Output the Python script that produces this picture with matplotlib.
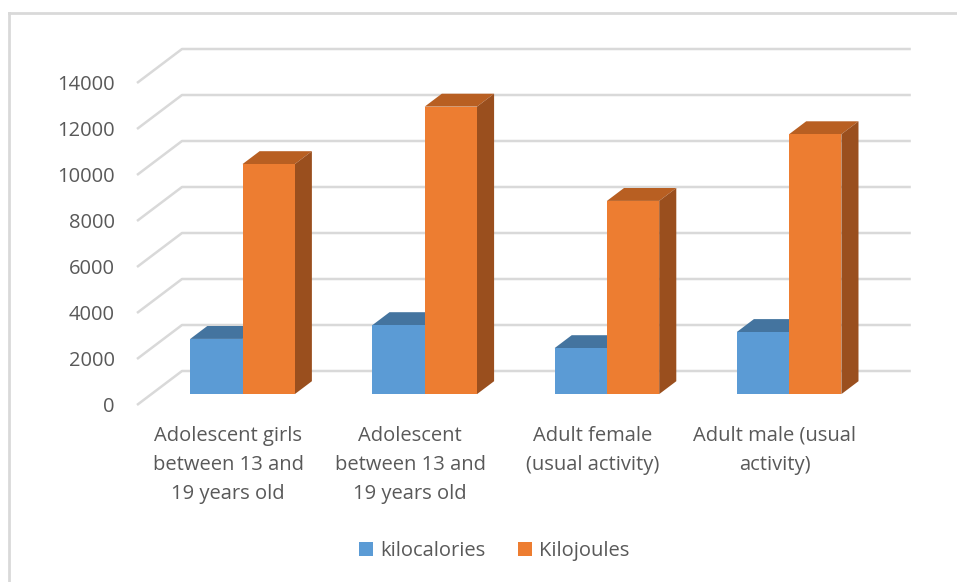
import matplotlib
matplotlib.use("Agg")
import matplotlib.pyplot as plt
from matplotlib.patches import Polygon, Patch
from matplotlib.lines import Line2D

# ---- data ----
categories = [
    "Adolescent girls\nbetween 13 and\n19 years old",
    "Adolescent\nbetween 13 and\n19 years old",
    "Adult female\n(usual activity)",
    "Adult male (usual\nactivity)",
]
series_names = ["kilocalories", "Kilojoules"]
kilocalories = [2400, 3000, 2000, 2700]
kilojoules = [10000, 12500, 8400, 11300]
y_ticks = [0, 2000, 4000, 6000, 8000, 10000, 12000, 14000]

# ---- style ----
front_colors = ["#5b9bd5", "#ed7d31"]
top_colors = ["#44749f", "#b85f22"]
side_colors = ["#3a6690", "#9a4f1e"]
grid_color = "#d9d9d9"
text_color = "#595959"

W, H = 957, 582
fig = plt.figure(figsize=(W / 100, H / 100), dpi=100)
plt.rcParams["font.family"] = ["Open Sans", "DejaVu Sans"]

# geometry of the pseudo-3D box (in data units)
DX = 45 / 182.2        # depth offset along x (categories)
DY = 1478              # depth offset along y (value units)
ymax = y_ticks[-1]
n = len(categories)

left_px, right_px = 137, 910.8
bottom_px, top_px = 405, 49
ax = fig.add_axes([left_px / W, (H - bottom_px) / H,
                   (right_px - left_px) / W, (bottom_px - top_px) / H])
ax.set_xlim(-0.5, n - 0.5 + DX)
ax.set_ylim(0, ymax + DY)
for s in ax.spines.values():
    s.set_visible(False)
ax.patch.set_alpha(0)

# gridlines: diagonal on left side wall, then along back wall
for v in y_ticks:
    ax.plot([-0.5, -0.5 + DX, n - 0.5 + DX], [v, v + DY, v + DY],
            color=grid_color, lw=1.8, clip_on=False, zorder=1,
            solid_capstyle="butt")

# bars
bar_w = 0.287
d0, d1 = 0.32, 0.70
values = [kilocalories, kilojoules]
for i in range(n):
    for s, vals in enumerate(values):
        v = vals[i]
        x0 = i - bar_w + s * bar_w + d0 * DX
        x1 = x0 + bar_w
        y0 = d0 * DY
        y1 = v + d0 * DY
        ddx = (d1 - d0) * DX
        ddy = (d1 - d0) * DY
        z = 2 + i * 3 + s
        front = Polygon([(x0, y0), (x1, y0), (x1, y1), (x0, y1)],
                        closed=True, facecolor=front_colors[s], edgecolor="none", zorder=z + 0.2)
        top = Polygon([(x0, y1), (x1, y1), (x1 + ddx, y1 + ddy), (x0 + ddx, y1 + ddy)],
                      closed=True, facecolor=top_colors[s], edgecolor="none", zorder=z)
        side = Polygon([(x1, y0), (x1 + ddx, y0 + ddy), (x1 + ddx, y1 + ddy), (x1, y1)],
                       closed=True, facecolor=side_colors[s], edgecolor="none", zorder=z)
        for p in (top, side, front):
            p.set_clip_on(False)
            ax.add_patch(p)

ax.set_yticks(y_ticks)
ax.set_yticklabels([str(t) for t in y_ticks])
ax.set_xticks(range(n))
ax.set_xticklabels(categories, linespacing=1.6)
ax.tick_params(axis="y", length=0, pad=16, labelsize=14.5, labelcolor=text_color)
ax.tick_params(axis="x", length=0, pad=15, labelsize=14.5, labelcolor=text_color)

# outer chart border (top and left visible)
fig.add_artist(Line2D([9 / W, 9 / W], [0, 1 - 13 / H], color=grid_color, lw=2))
fig.add_artist(Line2D([9 / W, 1], [1 - 13 / H, 1 - 13 / H], color=grid_color, lw=2))

handles = [Patch(facecolor=front_colors[k], edgecolor="none", label=series_names[k]) for k in range(2)]
fig.legend(handles=handles, loc="center", bbox_to_anchor=(494 / W, 1 - 551 / H),
           ncol=2, frameon=False, fontsize=14.5, labelcolor=text_color,
           handlelength=0.7, handleheight=0.7, handletextpad=0.35, columnspacing=1.6)

fig.savefig("out.png", dpi=100)
